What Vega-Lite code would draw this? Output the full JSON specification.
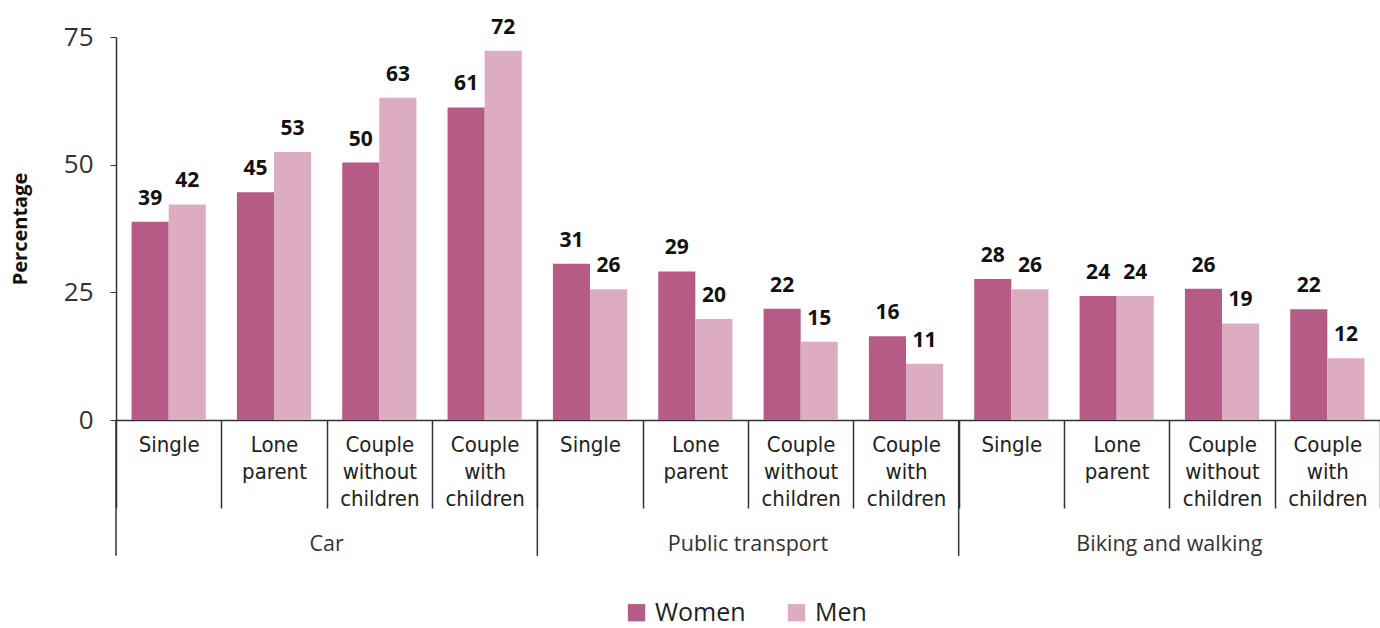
{
  "$schema": "https://vega.github.io/schema/vega-lite/v6.json",
  "width": 1264,
  "height": 383,
  "autosize": "none",
  "padding": {"left": 116, "top": 37, "right": 0, "bottom": 208},
  "background": "white",
  "config": {"view": {"stroke": null}, "font": "Open Sans"},
  "data": {"values": [
    {"mode": "Car", "household": "Single", "cat": "Car|Single", "gender": "Women", "value": 38.8},
    {"mode": "Car", "household": "Single", "cat": "Car|Single", "gender": "Men", "value": 42.2},
    {"mode": "Car", "household": "Lone parent", "cat": "Car|Lone parent", "gender": "Women", "value": 44.6},
    {"mode": "Car", "household": "Lone parent", "cat": "Car|Lone parent", "gender": "Men", "value": 52.5},
    {"mode": "Car", "household": "Couple without children", "cat": "Car|Couple without children", "gender": "Women", "value": 50.4},
    {"mode": "Car", "household": "Couple without children", "cat": "Car|Couple without children", "gender": "Men", "value": 63.1},
    {"mode": "Car", "household": "Couple with children", "cat": "Car|Couple with children", "gender": "Women", "value": 61.2},
    {"mode": "Car", "household": "Couple with children", "cat": "Car|Couple with children", "gender": "Men", "value": 72.3},
    {"mode": "Public transport", "household": "Single", "cat": "Public transport|Single", "gender": "Women", "value": 30.6},
    {"mode": "Public transport", "household": "Single", "cat": "Public transport|Single", "gender": "Men", "value": 25.6},
    {"mode": "Public transport", "household": "Lone parent", "cat": "Public transport|Lone parent", "gender": "Women", "value": 29.1},
    {"mode": "Public transport", "household": "Lone parent", "cat": "Public transport|Lone parent", "gender": "Men", "value": 19.8},
    {"mode": "Public transport", "household": "Couple without children", "cat": "Public transport|Couple without children", "gender": "Women", "value": 21.8},
    {"mode": "Public transport", "household": "Couple without children", "cat": "Public transport|Couple without children", "gender": "Men", "value": 15.3},
    {"mode": "Public transport", "household": "Couple with children", "cat": "Public transport|Couple with children", "gender": "Women", "value": 16.4},
    {"mode": "Public transport", "household": "Couple with children", "cat": "Public transport|Couple with children", "gender": "Men", "value": 11.0},
    {"mode": "Biking and walking", "household": "Single", "cat": "Biking and walking|Single", "gender": "Women", "value": 27.6},
    {"mode": "Biking and walking", "household": "Single", "cat": "Biking and walking|Single", "gender": "Men", "value": 25.6},
    {"mode": "Biking and walking", "household": "Lone parent", "cat": "Biking and walking|Lone parent", "gender": "Women", "value": 24.3},
    {"mode": "Biking and walking", "household": "Lone parent", "cat": "Biking and walking|Lone parent", "gender": "Men", "value": 24.3},
    {"mode": "Biking and walking", "household": "Couple without children", "cat": "Biking and walking|Couple without children", "gender": "Women", "value": 25.7},
    {"mode": "Biking and walking", "household": "Couple without children", "cat": "Biking and walking|Couple without children", "gender": "Men", "value": 18.9},
    {"mode": "Biking and walking", "household": "Couple with children", "cat": "Biking and walking|Couple with children", "gender": "Women", "value": 21.7},
    {"mode": "Biking and walking", "household": "Couple with children", "cat": "Biking and walking|Couple with children", "gender": "Men", "value": 12.1}
  ]},
  "encoding": {
    "x": {
      "field": "cat", "type": "nominal",
      "scale": {
        "domain": ["Car|Single", "Car|Lone parent", "Car|Couple without children", "Car|Couple with children",
                   "Public transport|Single", "Public transport|Lone parent", "Public transport|Couple without children", "Public transport|Couple with children",
                   "Biking and walking|Single", "Biking and walking|Lone parent", "Biking and walking|Couple without children", "Biking and walking|Couple with children"],
        "paddingInner": 0, "paddingOuter": 0
      },
      "axis": {
        "title": null,
        "labelExpr": "isString(datum.value) ? split(split(datum.value, '|')[1], ' ') : ''",
        "labelAngle": 0,
        "labelFont": "DejaVu Sans Condensed, Open Sans",
        "labelFontSize": 22,
        "labelColor": "#222",
        "labelLineHeight": 27,
        "labelBaseline": "top",
        "labelPadding": -74,
        "labelOverlap": false,
        "labelBound": false,
        "tickBand": "extent",
        "tickSize": 88,
        "tickColor": "#333",
        "tickWidth": 1.5,
        "domainColor": "#333",
        "domainWidth": 1.5
      }
    },
    "y": {
      "field": "value", "type": "quantitative",
      "scale": {"domain": [0, 75], "nice": false, "zero": true},
      "axis": {
        "title": "Percentage",
        "titleFont": "Open Sans",
        "titleFontSize": 20,
        "titleFontWeight": "bold",
        "titleColor": "#111",
        "titlePadding": 33,
        "values": [0, 25, 50, 75],
        "labelFontSize": 26,
        "labelColor": "#333",
        "labelPadding": 17,
        "tickSize": 6,
        "tickColor": "#333",
        "domainColor": "#333",
        "domainWidth": 1.5,
        "grid": false
      }
    }
  },
  "layer": [
    {
      "mark": {"type": "bar"},
      "encoding": {
        "xOffset": {"field": "gender", "type": "nominal", "sort": ["Women", "Men"], "scale": {"paddingInner": 0, "paddingOuter": 0.42}},
        "color": {
          "field": "gender", "type": "nominal", "sort": ["Women", "Men"],
          "scale": {"domain": ["Women", "Men"], "range": ["#b65b85", "#dcacc3"]},
          "legend": {
            "title": null, "orient": "none", "direction": "horizontal",
            "legendX": 508, "legendY": 563,
            "symbolType": "square", "symbolSize": 300, "symbolStrokeWidth": 0,
            "labelFontSize": 25, "labelFont": "Open Sans", "labelColor": "#222",
            "columnPadding": 38, "labelOffset": 6
          }
        }
      }
    },
    {
      "mark": {"type": "text", "dy": -17, "baseline": "alphabetic", "fontSize": 21, "fontWeight": "bold", "color": "#111", "font": "Open Sans"},
      "encoding": {
        "xOffset": {"field": "gender", "type": "nominal", "sort": ["Women", "Men"], "scale": {"paddingInner": 0, "paddingOuter": 0.42}},
        "text": {"field": "value", "type": "quantitative", "format": ".0f"}
      }
    },
    {
      "transform": [{"filter": "datum.household == 'Single' && datum.gender == 'Women'"}],
      "mark": {"type": "rule", "color": "#333", "strokeWidth": 1.5, "clip": false},
      "encoding": {
        "x": {"field": "cat", "type": "nominal", "bandPosition": 0},
        "y": {"datum": 0},
        "y2": {"datum": -26.6}
      }
    },
    {
      "transform": [{"filter": "datum.household == 'Couple without children' && datum.gender == 'Women'"}],
      "mark": {"type": "text", "fontSize": 21.5, "color": "#333", "font": "Open Sans", "baseline": "middle", "clip": false},
      "encoding": {
        "x": {"field": "cat", "type": "nominal", "bandPosition": 0},
        "y": {"datum": -24.5},
        "text": {"field": "mode"}
      }
    }
  ]
}
